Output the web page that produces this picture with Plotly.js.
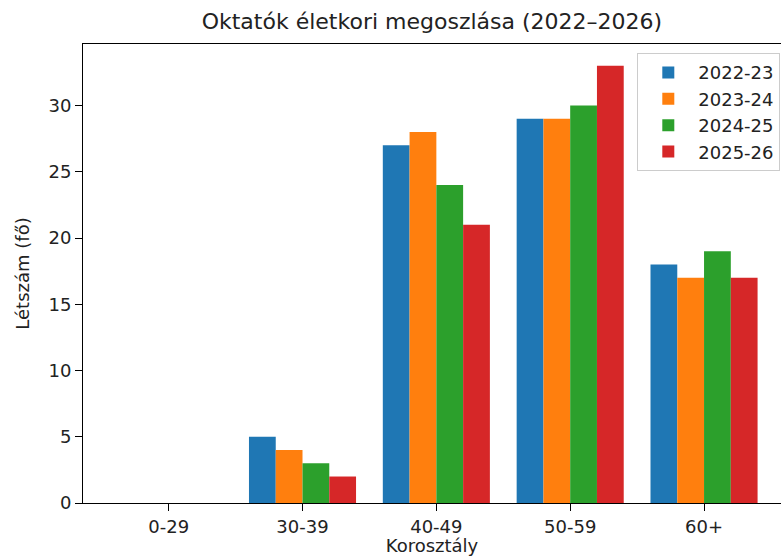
<!DOCTYPE html>
<html>
<head>
<meta charset="utf-8">
<script src="https://cdn.plot.ly/plotly-3.0.1.min.js"></script>
<style>
  body { margin: 0; background: #fff; }
  #chart { width: 781px; height: 556px; }
</style>
</head>
<body>
<div id="chart"></div>
<script>
const ageGroups = ['0-29', '30-39', '40-49', '50-59', '60+']
const years = ['2022-23', '2023-24', '2024-25', '2025-26']
const counts2022 = [0, 5, 27, 29, 18]
const counts2023 = [0, 4, 28, 29, 17]
const counts2024 = [0, 3, 24, 30, 19]
const counts2025 = [0, 2, 21, 33, 17]
const colors = ['#1f77b4', '#ff7f0e', '#2ca02c', '#d62728']

const series = [counts2022, counts2023, counts2024, counts2025]
const font = 'DejaVu Sans, sans-serif'
const small = 18

const data = series.map((vals, i) => ({
    type: 'bar',
    name: years[i],
    x: ageGroups,
    y: vals,
    marker: {color: colors[i], line: {width: 0}}
}))

const layout = {
    width: 781,
    height: 556,
    margin: {l: 83, r: 0, t: 44, b: 53},
    paper_bgcolor: '#fff',
    plot_bgcolor: '#fff',
    font: {family: font, size: small, color: '#222'},
    title: {
        text: 'Oktatók életkori megoszlása (2022–2026)',
        font: {family: font, size: 22, color: '#222'},
        x: 0.553, xanchor: 'center',
        y: 0.961, yanchor: 'middle'
    },
    barmode: 'group',
    bargap: 0.2,
    bargroupgap: 0,
    showlegend: true,
    legend: {
        x: 0.999, xanchor: 'right',
        y: 0.98, yanchor: 'top',
        bgcolor: 'rgba(255,255,255,0.8)',
        bordercolor: '#cccccc',
        borderwidth: 1,
        itemwidth: 50,
        font: {family: font, size: small, color: '#222'},
        tracegroupgap: 0
    },
    xaxis: {
        type: 'category',
        range: [-0.64, 4.575],
        showgrid: false,
        zeroline: false,
        showline: true,
        mirror: true,
        linecolor: '#000',
        linewidth: 1,
        ticks: 'outside',
        ticklen: 7,
        tickcolor: '#000',
        tickfont: {family: font, size: small, color: '#222'},
        title: {text: 'Korosztály', font: {family: font, size: small, color: '#222'}, standoff: 4}
    },
    yaxis: {
        range: [0, 34.65],
        tickvals: [0, 5, 10, 15, 20, 25, 30],
        showgrid: false,
        zeroline: false,
        showline: true,
        linecolor: '#000',
        linewidth: 1,
        ticks: 'outside',
        ticklen: 7,
        tickcolor: '#000',
        tickfont: {family: font, size: small, color: '#222'},
        title: {text: 'Létszám (fő)', font: {family: font, size: small, color: '#222'}, standoff: 14}
    }
}

Plotly.newPlot('chart', data, layout, {displayModeBar: false, staticPlot: true})
</script>
</body>
</html>
